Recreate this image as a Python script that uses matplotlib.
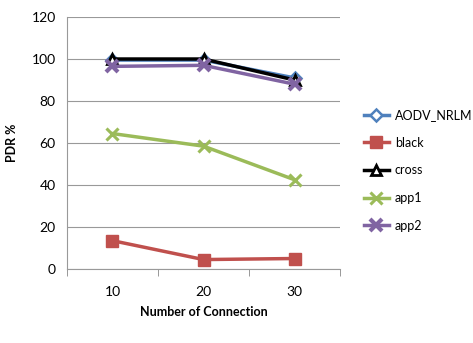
import matplotlib
matplotlib.use("Agg")
import matplotlib.pyplot as plt

categories = ["10", "20", "30"]
series_names = ["AODV_NRLM", "black", "cross", "app1", "app2"]
aodv_nrlm = [99.5, 99.5, 91]
black = [13.5, 4.5, 5]
cross = [100, 100, 90]
app1 = [64.5, 58.5, 42.5]
app2 = [96.5, 97, 88]
yticks = [0, 20, 40, 60, 80, 100, 120]

plt.rcParams['font.family'] = ['Lato', 'DejaVu Sans']

fig = plt.figure(figsize=(4.73, 3.43), dpi=100)
ax = fig.add_axes([0.1416, 0.2157, 0.5774, 0.7347])

x = list(range(len(categories)))
styles = [
    dict(color="#4F81BD", marker="D", ms=6, mfc="white", mec="#4F81BD", mew=1.8),
    dict(color="#C0504D", marker="s", ms=8, mfc="#C0504D", mec="#C0504D"),
    dict(color="#000000", marker="^", ms=7, mfc="white", mec="#000000", mew=2),
    dict(color="#9BBB59", marker="x", ms=8, mec="#9BBB59", mew=2.2),
    dict(color="#8064A2", marker="x", ms=8, mec="#8064A2", mew=3),
]
data = [aodv_nrlm, black, cross, app1, app2]
for name, vals, st in zip(series_names, data, styles):
    ax.plot(x, vals, lw=2.5, label=name, **st)

ax.set_xlim(-0.5, len(categories) - 0.5)
ax.set_ylim(0, 120)
ax.set_yticks(yticks)
ax.set_xticks(x)
ax.set_xticklabels(categories)
ax.set_xticks([i - 0.5 for i in range(len(categories) + 1)], minor=True)
ax.tick_params(axis='x', which='major', length=0, pad=12, labelsize=10)
ax.tick_params(axis='x', which='minor', length=5, color="#888888", direction='out')
ax.tick_params(axis='y', length=0, labelsize=10, pad=8)
ax.grid(axis='y', color="#999999", lw=0.8)
ax.set_axisbelow(True)
for s in ["top", "right"]:
    ax.spines[s].set_visible(False)
ax.spines["left"].set_color("#999999")
ax.spines["bottom"].set_color("#999999")

ax.set_xlabel("Number of Connection", fontweight="bold", fontsize=9, labelpad=6)
ax.set_ylabel("PDR %", fontweight="bold", fontsize=9, labelpad=10)

fig.legend(loc="center left", bbox_to_anchor=(0.745, 0.503), frameon=False,
           fontsize=9, labelspacing=1.25, handlelength=2.0, handletextpad=0.5)

fig.savefig("out.png", dpi=100)
